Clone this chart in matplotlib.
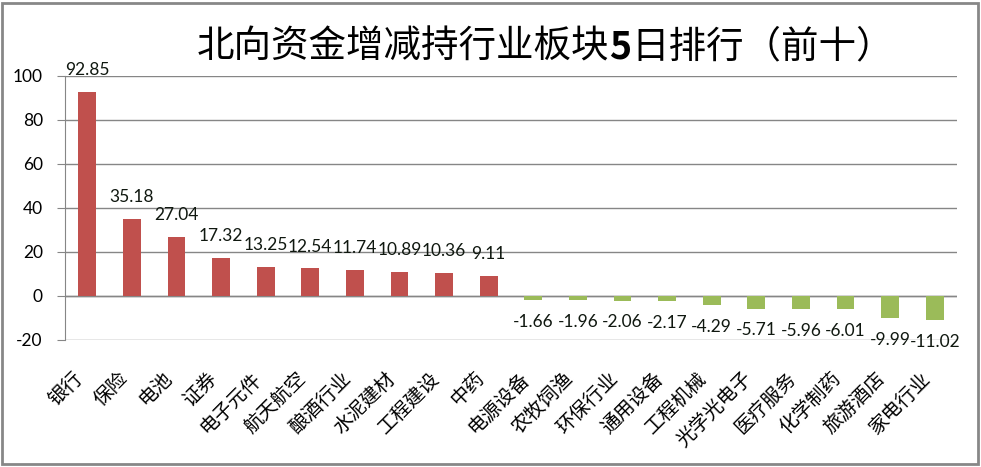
import matplotlib
matplotlib.use("Agg")
import matplotlib.pyplot as plt
from matplotlib.patches import Rectangle

# 数据
categories = ["银行", "保险", "电池", "证券", "电子元件", "航天航空", "酿酒行业", "水泥建材",
              "工程建设", "中药", "电源设备", "农牧饲渔", "环保行业", "通用设备", "工程机械",
              "光学光电子", "医疗服务", "化学制药", "旅游酒店", "家电行业"]
values = [92.85, 35.18, 27.04, 17.32, 13.25, 12.54, 11.74, 10.89, 10.36, 9.11,
          -1.66, -1.96, -2.06, -2.17, -4.29, -5.71, -5.96, -6.01, -9.99, -11.02]
y_ticks = [-20, 0, 20, 40, 60, 80, 100]
title_parts = ["北向资金增减持行业板块", "5", "日排行（前十）"]

RED = "#C0504D"
GREEN = "#9BBB59"
GRID = "#868686"
NUM_FONT = ["Lato", "DejaVu Sans"]
CJK_FONT = ["Noto Sans CJK SC", "DejaVu Sans"]

fig = plt.figure(figsize=(9.81, 4.67), dpi=100, facecolor="white")
ax = fig.add_axes([65 / 981, 1 - 340 / 467, 892 / 981, 264 / 467])

x = list(range(len(categories)))
colors = [RED if v >= 0 else GREEN for v in values]
ax.bar(x, values, width=0.4, color=colors, zorder=3)

ax.set_xlim(-0.5, len(categories) - 0.5)
ax.set_ylim(-20, 100)
ax.set_yticks(y_ticks)
ax.set_yticklabels([str(t) for t in y_ticks], fontfamily=NUM_FONT, fontsize=12.5)
ax.tick_params(axis="y", length=6, color=GRID, pad=10)
ax.yaxis.grid(True, color=GRID, linewidth=1, zorder=0)

ax.set_xticks(x)
ax.set_xticklabels(categories, rotation=45, ha="right", va="top",
                   fontfamily=CJK_FONT, fontsize=14)
ax.tick_params(axis="x", length=0, pad=20)

for s in ["top", "right", "bottom"]:
    ax.spines[s].set_visible(False)
ax.spines["left"].set_color(GRID)
ax.axhline(0, color=GRID, linewidth=1, zorder=2)

# 数据标签
for xi, v in zip(x, values):
    off, va = (10, "bottom") if v >= 0 else (-10, "top")
    ax.annotate(f"{v:g}", (xi, v), xytext=(0, off), textcoords="offset points",
                ha="center", va=va, fontsize=12.5, fontfamily=NUM_FONT,
                color="#101810")

# 标题（“5”加粗），分三段拼接
fig.canvas.draw()
renderer = fig.canvas.get_renderer()
weights = ["normal", "bold", "normal"]
pieces = []
for part, w in zip(title_parts, weights):
    t = fig.text(0, 1 - 47 / 467, part, ha="left", va="center", fontsize=27,
                 fontfamily=CJK_FONT, fontweight=w, color="black")
    pieces.append(t)
widths = [p.get_window_extent(renderer).width for p in pieces]
start = 545 - sum(widths) / 2
for p, w in zip(pieces, widths):
    p.set_x(start / 981)
    start += w

# 外框
fig.patches.append(Rectangle((2 / 981, 3 / 467), 976 / 981, 461 / 467,
                             transform=fig.transFigure, fill=False,
                             edgecolor="#878787", linewidth=2))

fig.savefig("out.png", dpi=100)
